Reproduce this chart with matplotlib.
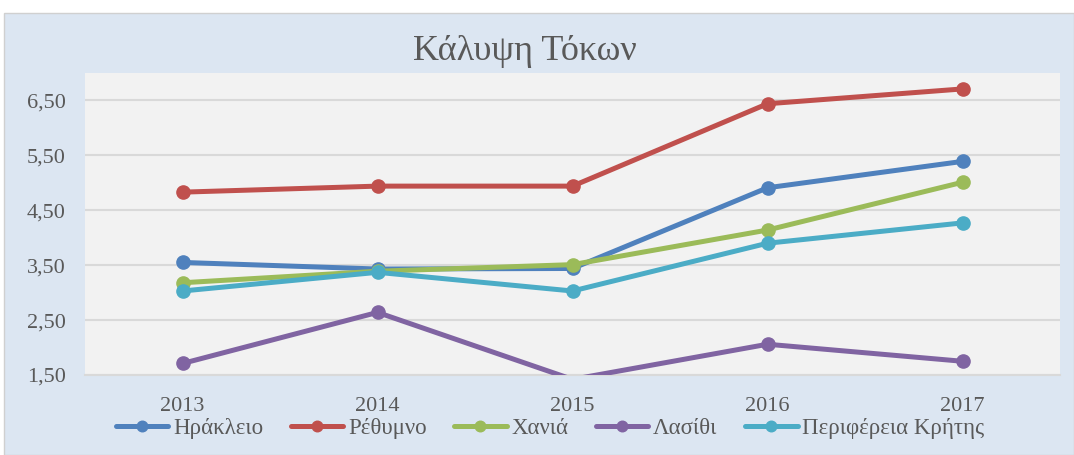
import matplotlib.pyplot as plt
from matplotlib.patches import Rectangle

years = ['2013', '2014', '2015', '2016', '2017']
irakleio = [3.55, 3.43, 3.44, 4.91, 5.39]
rethymno = [4.83, 4.94, 4.94, 6.44, 6.71]
chania = [3.18, 3.39, 3.51, 4.14, 5.01]
lasithi = [1.71, 2.64, 1.42, 2.06, 1.75]
kriti = [3.03, 3.37, 3.03, 3.90, 4.27]

names = ['Ηράκλειο', 'Ρέθυμνο', 'Χανιά', 'Λασίθι', 'Περιφέρεια Κρήτης']
colors = ['#4f81bd', '#c0504d', '#9bbb59', '#8064a2', '#4bacc6']
series = [irakleio, rethymno, chania, lasithi, kriti]
yticks = [1.5, 2.5, 3.5, 4.5, 5.5, 6.5]
ymin, ymax = 1.5, 7.0

plt.rcParams['font.family'] = ['Liberation Serif', 'DejaVu Serif']
txt = '#595959'

fig = plt.figure(figsize=(10.74, 4.55), dpi=100)
fig.patch.set_facecolor('white')
# chart area background, behind the axes
bg = Rectangle((4 / 1074, 0), 1 - 4 / 1074, 1 - 13 / 455,
               transform=fig.transFigure, facecolor='#dce6f2',
               edgecolor='#d0d0d0', linewidth=1, zorder=-10)
fig.add_artist(bg)

ax = fig.add_axes([85 / 1074, 1 - 375 / 455, 975 / 1074, (375 - 73) / 455])
ax.set_facecolor('#f2f2f2')
x = range(len(years))
for vals, name, c in zip(series, names, colors):
    # like Excel: no marker for points outside the axis range
    shown = [i for i, v in enumerate(vals) if ymin <= v <= ymax]
    ax.plot(x, vals, color=c, lw=3.6, marker='o', markersize=9.5,
            markevery=shown, label=name, solid_capstyle='round', zorder=3)

ax.set_xlim(-0.5, 4.5)
ax.set_ylim(ymin, ymax)
ax.set_yticks(yticks)
ax.set_yticklabels([f'{v:.2f}'.replace('.', ',') for v in yticks])
ax.set_xticks(list(x))
ax.set_xticklabels(years)
ax.yaxis.grid(True, color='#d9d9d9', lw=1.5)
ax.set_axisbelow(True)
for s in ax.spines.values():
    s.set_visible(False)
ax.spines['bottom'].set_visible(True)
ax.spines['bottom'].set_color('#d9d9d9')
ax.spines['bottom'].set_linewidth(1.5)
ax.tick_params(length=0, labelsize=16, colors=txt)
ax.tick_params(axis='y', pad=14)
ax.tick_params(axis='x', pad=16)

fig.text(525 / 1074, 1 - 51 / 455, 'Κάλυψη Τόκων', ha='center', va='center',
         fontsize=26, color=txt)

leg = fig.legend(loc='center', bbox_to_anchor=(550 / 1074, 1 - 428 / 455),
                 ncol=5, frameon=False, fontsize=16.5, handlelength=2.3,
                 handletextpad=0.2, columnspacing=1.2, borderaxespad=0,
                 markerscale=0.8)
for t in leg.get_texts():
    t.set_color(txt)

fig.savefig('out.png', dpi=100)
